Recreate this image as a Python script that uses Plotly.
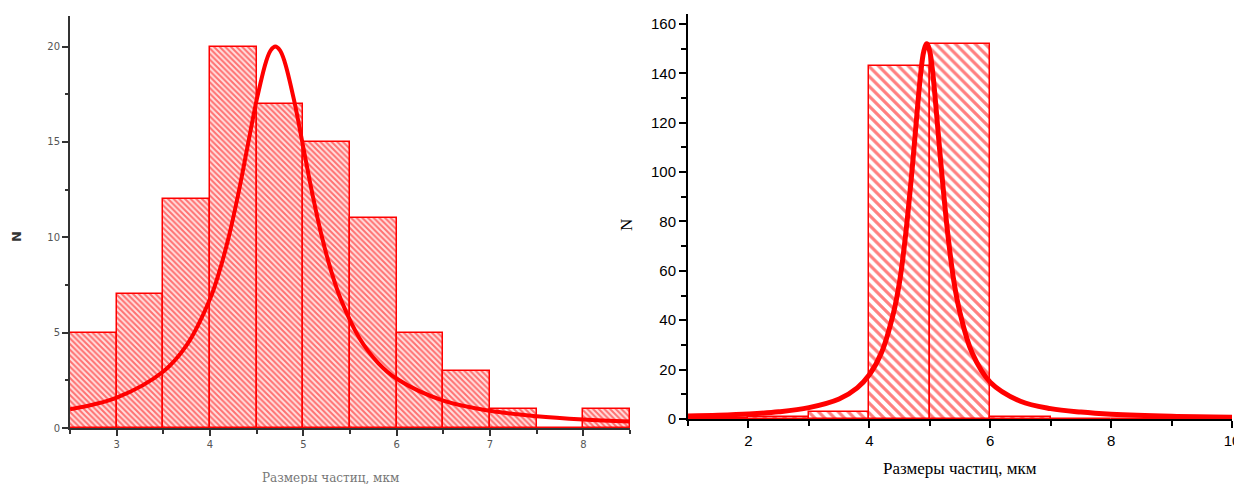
import plotly.graph_objects as go

# ---- Left panel data ----
left_bin_edges_lo = [2.5, 3.0, 3.5, 4.0, 4.5, 5.0, 5.5, 6.0, 6.5, 7.0, 7.5, 8.0]
left_counts = [5, 7, 12, 20, 17, 15, 11, 5, 3, 1, 0, 1]
left_bin_width = 0.5
left_curve_x = [2.5, 3.0, 3.5, 3.75, 4.0, 4.1, 4.2, 4.3, 4.4, 4.5, 4.6, 4.65, 4.7, 4.75, 4.8, 4.9,
                5.0, 5.1, 5.2, 5.3, 5.4, 5.6, 5.8, 6.0, 6.5, 7.0, 7.5, 8.0, 8.5]
left_curve_y = [0.98, 1.59, 2.96, 4.34, 6.76, 8.2, 10.0, 12.2, 14.7, 17.2, 19.2, 19.8, 20.0, 19.8, 19.2, 17.2,
                14.7, 12.2, 10.0, 8.2, 6.76, 4.72, 3.42, 2.58, 1.43, 0.90, 0.62, 0.45, 0.34]
left_xticks = [3, 4, 5, 6, 7, 8]
left_yticks = [0, 5, 10, 15, 20]

# ---- Right panel data ----
right_bin_edges_lo = [1, 2, 3, 4, 5, 6, 7, 8, 9]
right_counts = [0.5, 1, 3, 143, 152, 1, 0, 0, 0.5]
right_bin_width = 1.0
right_curve_x = [1, 1.5, 2, 2.5, 3, 3.5, 3.8, 4.0, 4.2, 4.4, 4.5, 4.6, 4.7, 4.8, 4.85, 4.9, 4.95,
                 5.0, 5.05, 5.1, 5.2, 5.3, 5.4, 5.5, 5.7, 6.0, 6.5, 7, 7.5, 8, 9, 10]
right_curve_y = [1.2, 1.5, 2.0, 2.9, 4.6, 8.1, 12.6, 17.9, 26.8, 43.0, 55.5, 74.5, 99.0, 127, 140, 148.8, 152,
                 148.8, 140, 127, 99.0, 74.5, 55.5, 43.0, 26.8, 14.9, 7.2, 4.2, 2.8, 1.95, 1.1, 0.72]
right_xticks = [2, 4, 6, 8, 10]
right_yticks = [0, 20, 40, 60, 80, 100, 120, 140, 160]

RED = "#ff0000"
OFF = 8  # default page body margin
W, H = 1242 - OFF, 492 - 2 * OFF

fig = go.Figure()

fig.add_trace(go.Bar(
    x=[e + left_bin_width / 2 for e in left_bin_edges_lo], y=left_counts, width=left_bin_width,
    marker=dict(color="#ffd6d6", line=dict(color=RED, width=1.5),
                pattern=dict(shape="\\", fgcolor=RED, bgcolor="#ffe0e0", size=4, solidity=0.5)),
    xaxis="x", yaxis="y", showlegend=False))
fig.add_trace(go.Scatter(
    x=left_curve_x, y=left_curve_y, mode="lines", line=dict(color=RED, width=4, shape="spline"),
    xaxis="x", yaxis="y", showlegend=False))

fig.add_trace(go.Bar(
    x=[e + right_bin_width / 2 for e in right_bin_edges_lo], y=right_counts, width=right_bin_width,
    marker=dict(color="white", line=dict(color=RED, width=1.5),
                pattern=dict(shape="\\", fgcolor=RED, bgcolor="white", size=7, solidity=0.45)),
    xaxis="x2", yaxis="y2", showlegend=False))
fig.add_trace(go.Scatter(
    x=right_curve_x, y=right_curve_y, mode="lines", line=dict(color=RED, width=5, shape="spline"),
    xaxis="x2", yaxis="y2", showlegend=False))

def px_x(p):
    return (p - OFF) / W

def px_y(p):
    return 1 - (p - OFF) / H

left_font = dict(family="DejaVu Sans", size=10, color="#555555")
right_font = dict(family="Liberation Sans, Arial", size=15, color="black")

common = dict(showgrid=False, zeroline=False, automargin=False, showline=True)

fig.update_layout(
    width=W, height=H, margin=dict(l=0, r=0, t=0, b=0, autoexpand=False),
    paper_bgcolor="white", plot_bgcolor="white", bargap=0,
    xaxis=dict(domain=[px_x(70), px_x(630)], range=[2.5, 8.5], anchor="y",
               tickvals=left_xticks, ticks="outside", ticklen=6, tickwidth=2, tickcolor="#333",
               minor=dict(tickvals=[2.5, 3.5, 4.5, 5.5, 6.5, 7.5, 8.5], ticks="outside", ticklen=4, tickwidth=1.5, tickcolor="#333"),
               linecolor="#333", linewidth=2, tickfont=left_font, **common),
    yaxis=dict(domain=[px_y(428), px_y(16)], range=[0, 21.6], anchor="x",
               tickvals=left_yticks, ticks="outside", ticklen=6, tickwidth=2, tickcolor="#333",
               minor=dict(tickvals=[2.5, 7.5, 12.5, 17.5], ticks="outside", ticklen=3, tickwidth=1.5, tickcolor="#333"),
               linecolor="#333", linewidth=2, tickfont=left_font, **common),
    xaxis2=dict(domain=[px_x(688), px_x(1232)], range=[1, 10], anchor="y2",
                tickvals=right_xticks, ticks="outside", ticklen=7, tickwidth=2, tickcolor="black",
                minor=dict(tickvals=[1, 3, 5, 7, 9], ticks="outside", ticklen=5, tickwidth=1.5, tickcolor="black"),
                linecolor="black", linewidth=2, tickfont=right_font, **common),
    yaxis2=dict(domain=[px_y(419), px_y(14)], range=[0, 164], anchor="x2",
                tickvals=right_yticks, ticks="outside", ticklen=7, tickwidth=2, tickcolor="black",
                minor=dict(tickvals=[10, 30, 50, 70, 90, 110, 130, 150], ticks="outside", ticklen=5, tickwidth=1.5, tickcolor="black"),
                linecolor="black", linewidth=2, tickfont=right_font, **common),
)

ann = dict(xref="paper", yref="paper", showarrow=False, xanchor="center", yanchor="middle")
fig.add_annotation(x=px_x(16), y=px_y(237), text="<b>N</b>", textangle=-90,
                   font=dict(family="DejaVu Sans", size=13, color="#333"), **ann)
fig.add_annotation(x=px_x(330), y=px_y(478), text="Размеры частиц, мкм",
                   font=dict(family="DejaVu Serif", size=12, color="#777"), **ann)
fig.add_annotation(x=px_x(627), y=px_y(225), text="N", textangle=-90,
                   font=dict(family="Liberation Serif", size=17, color="black"), **ann)
fig.add_annotation(x=px_x(960), y=px_y(468), text="Размеры частиц, мкм",
                   font=dict(family="Liberation Serif", size=17, color="black"), **ann)

fig.write_html("out.html")
